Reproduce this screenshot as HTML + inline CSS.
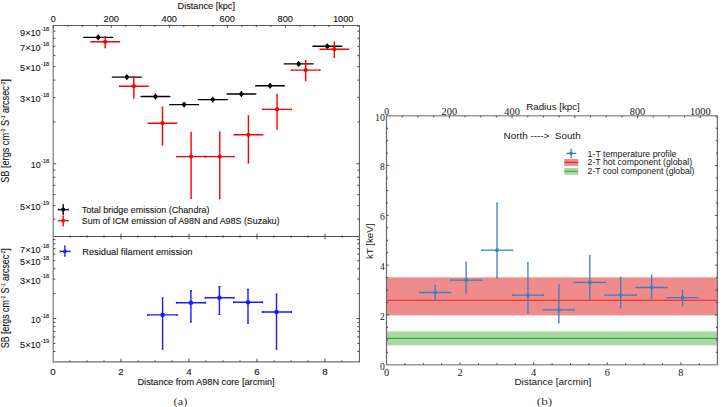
<!DOCTYPE html>
<html><head><meta charset="utf-8"><style>
html,body{margin:0;padding:0;background:#fff;}
body{width:725px;height:407px;overflow:hidden;}
svg{display:block;}
</style></head><body>
<svg width="725" height="407" viewBox="0 0 725 407" font-family='"Liberation Sans", sans-serif'>
<rect width="725" height="407" fill="#fff"/>
<path d="M53.2 25.5H359.4" stroke="#4a4a4a" stroke-width="0.9"/>
<path d="M53.2 236.5H359.4" stroke="#4a4a4a" stroke-width="1"/>
<path d="M53.2 361.9H359.4" stroke="#6e6e6e" stroke-width="1.25"/>
<path d="M53.2 25.05V362.5" stroke="#858585" stroke-width="1.3"/>
<path d="M359.4 25.05V362.5" stroke="#5a5a5a" stroke-width="1.05"/>
<path d="M53.3 25.5v2.2 M67.8 25.5v1.5 M82.3 25.5v1.5 M96.8 25.5v1.5 M111.3 25.5v2.2 M125.8 25.5v1.5 M140.3 25.5v1.5 M154.8 25.5v1.5 M169.3 25.5v2.2 M183.8 25.5v1.5 M198.3 25.5v1.5 M212.8 25.5v1.5 M227.3 25.5v2.2 M241.8 25.5v1.5 M256.3 25.5v1.5 M270.8 25.5v1.5 M285.3 25.5v2.2 M299.8 25.5v1.5 M314.3 25.5v1.5 M328.8 25.5v1.5 M343.3 25.5v2.2 M357.8 25.5v1.5 M70 235.3v2.4 M70 361.9v-1.6 M87 235.3v2.4 M87 361.9v-1.6 M104 235.3v2.4 M104 361.9v-1.6 M121 233.7v5.6 M121 361.9v-3.2 M138 235.3v2.4 M138 361.9v-1.6 M155 235.3v2.4 M155 361.9v-1.6 M172 235.3v2.4 M172 361.9v-1.6 M189 233.7v5.6 M189 361.9v-3.2 M206 235.3v2.4 M206 361.9v-1.6 M223 235.3v2.4 M223 361.9v-1.6 M240 235.3v2.4 M240 361.9v-1.6 M257 233.7v5.6 M257 361.9v-3.2 M274 235.3v2.4 M274 361.9v-1.6 M291 235.3v2.4 M291 361.9v-1.6 M308 235.3v2.4 M308 361.9v-1.6 M325 233.7v5.6 M325 361.9v-3.2 M342 235.3v2.4 M342 361.9v-1.6 M53.2 121.96h2.2 M359.4 121.96h-2 M53.2 97.48h2.2 M359.4 97.48h-2 M53.2 80.11h2.2 M359.4 80.11h-2 M53.2 66.64h2.2 M359.4 66.64h-2 M53.2 55.64h2.2 M359.4 55.64h-2 M53.2 46.33h2.2 M359.4 46.33h-2 M53.2 38.27h2.2 M359.4 38.27h-2 M53.2 31.16h2.2 M359.4 31.16h-2 M53.2 219.11h2.2 M359.4 219.11h-2 M53.2 205.64h2.2 M359.4 205.64h-2 M53.2 194.64h2.2 M359.4 194.64h-2 M53.2 185.33h2.2 M359.4 185.33h-2 M53.2 177.27h2.2 M359.4 177.27h-2 M53.2 170.16h2.2 M359.4 170.16h-2 M53.2 163.8h3 M359.4 163.8h-3 M53.2 293.67h2.2 M359.4 293.67h-2 M53.2 279.09h2.2 M359.4 279.09h-2 M53.2 268.75h2.2 M359.4 268.75h-2 M53.2 260.73h2.2 M359.4 260.73h-2 M53.2 254.17h2.2 M359.4 254.17h-2 M53.2 248.63h2.2 M359.4 248.63h-2 M53.2 243.82h2.2 M359.4 243.82h-2 M53.2 239.59h2.2 M359.4 239.59h-2 M53.2 351.55h2.2 M359.4 351.55h-2 M53.2 343.53h2.2 M359.4 343.53h-2 M53.2 336.97h2.2 M359.4 336.97h-2 M53.2 331.43h2.2 M359.4 331.43h-2 M53.2 326.62h2.2 M359.4 326.62h-2 M53.2 322.39h2.2 M359.4 322.39h-2 M53.2 318.6h3 M359.4 318.6h-3" stroke="#333" stroke-width="0.9" fill="none"/>
<text x="40.7" y="35.76" font-family='"Liberation Sans", sans-serif' font-size="9.9" fill="#151515" stroke="#151515" stroke-width="0.12" text-anchor="end" textLength="20.6" lengthAdjust="spacingAndGlyphs">9×10</text><text x="41" y="30.56" font-family='"Liberation Sans", sans-serif' font-size="5.6" fill="#151515" stroke="#151515" stroke-width="0.12" textLength="8.2" lengthAdjust="spacingAndGlyphs" >-18</text>
<text x="40.7" y="50.93" font-family='"Liberation Sans", sans-serif' font-size="9.9" fill="#151515" stroke="#151515" stroke-width="0.12" text-anchor="end" textLength="20.6" lengthAdjust="spacingAndGlyphs">7×10</text><text x="41" y="45.73" font-family='"Liberation Sans", sans-serif' font-size="5.6" fill="#151515" stroke="#151515" stroke-width="0.12" textLength="8.2" lengthAdjust="spacingAndGlyphs" >-18</text>
<text x="40.7" y="71.24" font-family='"Liberation Sans", sans-serif' font-size="9.9" fill="#151515" stroke="#151515" stroke-width="0.12" text-anchor="end" textLength="20.6" lengthAdjust="spacingAndGlyphs">5×10</text><text x="41" y="66.04" font-family='"Liberation Sans", sans-serif' font-size="5.6" fill="#151515" stroke="#151515" stroke-width="0.12" textLength="8.2" lengthAdjust="spacingAndGlyphs" >-18</text>
<text x="40.7" y="102.08" font-family='"Liberation Sans", sans-serif' font-size="9.9" fill="#151515" stroke="#151515" stroke-width="0.12" text-anchor="end" textLength="20.6" lengthAdjust="spacingAndGlyphs">3×10</text><text x="41" y="96.88" font-family='"Liberation Sans", sans-serif' font-size="5.6" fill="#151515" stroke="#151515" stroke-width="0.12" textLength="8.2" lengthAdjust="spacingAndGlyphs" >-18</text>
<text x="40.7" y="168.4" font-family='"Liberation Sans", sans-serif' font-size="9.9" fill="#151515" stroke="#151515" stroke-width="0.12" text-anchor="end" textLength="10" lengthAdjust="spacingAndGlyphs">10</text><text x="41" y="163.2" font-family='"Liberation Sans", sans-serif' font-size="5.6" fill="#151515" stroke="#151515" stroke-width="0.12" textLength="8.2" lengthAdjust="spacingAndGlyphs" >-18</text>
<text x="40.7" y="210.24" font-family='"Liberation Sans", sans-serif' font-size="9.9" fill="#151515" stroke="#151515" stroke-width="0.12" text-anchor="end" textLength="20.6" lengthAdjust="spacingAndGlyphs">5×10</text><text x="41" y="205.04" font-family='"Liberation Sans", sans-serif' font-size="5.6" fill="#151515" stroke="#151515" stroke-width="0.12" textLength="8.2" lengthAdjust="spacingAndGlyphs" >-19</text>
<text x="40.7" y="253.23" font-family='"Liberation Sans", sans-serif' font-size="9.9" fill="#151515" stroke="#151515" stroke-width="0.12" text-anchor="end" textLength="20.6" lengthAdjust="spacingAndGlyphs">7×10</text><text x="41" y="248.03" font-family='"Liberation Sans", sans-serif' font-size="5.6" fill="#151515" stroke="#151515" stroke-width="0.12" textLength="8.2" lengthAdjust="spacingAndGlyphs" >-18</text>
<text x="40.7" y="265.33" font-family='"Liberation Sans", sans-serif' font-size="9.9" fill="#151515" stroke="#151515" stroke-width="0.12" text-anchor="end" textLength="20.6" lengthAdjust="spacingAndGlyphs">5×10</text><text x="41" y="260.13" font-family='"Liberation Sans", sans-serif' font-size="5.6" fill="#151515" stroke="#151515" stroke-width="0.12" textLength="8.2" lengthAdjust="spacingAndGlyphs" >-18</text>
<text x="40.7" y="283.69" font-family='"Liberation Sans", sans-serif' font-size="9.9" fill="#151515" stroke="#151515" stroke-width="0.12" text-anchor="end" textLength="20.6" lengthAdjust="spacingAndGlyphs">3×10</text><text x="41" y="278.49" font-family='"Liberation Sans", sans-serif' font-size="5.6" fill="#151515" stroke="#151515" stroke-width="0.12" textLength="8.2" lengthAdjust="spacingAndGlyphs" >-18</text>
<text x="40.7" y="323.2" font-family='"Liberation Sans", sans-serif' font-size="9.9" fill="#151515" stroke="#151515" stroke-width="0.12" text-anchor="end" textLength="10" lengthAdjust="spacingAndGlyphs">10</text><text x="41" y="318" font-family='"Liberation Sans", sans-serif' font-size="5.6" fill="#151515" stroke="#151515" stroke-width="0.12" textLength="8.2" lengthAdjust="spacingAndGlyphs" >-18</text>
<text x="40.7" y="348.13" font-family='"Liberation Sans", sans-serif' font-size="9.9" fill="#151515" stroke="#151515" stroke-width="0.12" text-anchor="end" textLength="20.6" lengthAdjust="spacingAndGlyphs">5×10</text><text x="41" y="342.93" font-family='"Liberation Sans", sans-serif' font-size="5.6" fill="#151515" stroke="#151515" stroke-width="0.12" textLength="8.2" lengthAdjust="spacingAndGlyphs" >-19</text>
<text x="53.2" y="21.6" font-family='"Liberation Sans", sans-serif' font-size="9.7" fill="#151515" stroke="#151515" stroke-width="0.12" text-anchor="middle" textLength="5" lengthAdjust="spacingAndGlyphs">0</text>
<text x="111.2" y="21.6" font-family='"Liberation Sans", sans-serif' font-size="9.7" fill="#151515" stroke="#151515" stroke-width="0.12" text-anchor="middle" textLength="15.4" lengthAdjust="spacingAndGlyphs">200</text>
<text x="169.2" y="21.6" font-family='"Liberation Sans", sans-serif' font-size="9.7" fill="#151515" stroke="#151515" stroke-width="0.12" text-anchor="middle" textLength="15.4" lengthAdjust="spacingAndGlyphs">400</text>
<text x="227.2" y="21.6" font-family='"Liberation Sans", sans-serif' font-size="9.7" fill="#151515" stroke="#151515" stroke-width="0.12" text-anchor="middle" textLength="15.4" lengthAdjust="spacingAndGlyphs">600</text>
<text x="285.2" y="21.6" font-family='"Liberation Sans", sans-serif' font-size="9.7" fill="#151515" stroke="#151515" stroke-width="0.12" text-anchor="middle" textLength="15.4" lengthAdjust="spacingAndGlyphs">800</text>
<text x="343.2" y="21.6" font-family='"Liberation Sans", sans-serif' font-size="9.7" fill="#151515" stroke="#151515" stroke-width="0.12" text-anchor="middle" textLength="20.6" lengthAdjust="spacingAndGlyphs">1000</text>
<text x="177.6" y="8.7" font-family='"Liberation Sans", sans-serif' font-size="9.1" fill="#151515" stroke="#151515" stroke-width="0.12" textLength="57.4" lengthAdjust="spacingAndGlyphs" >Distance [kpc]</text>
<text x="53" y="374.7" font-family='"Liberation Sans", sans-serif' font-size="9.7" fill="#151515" stroke="#151515" stroke-width="0.12" text-anchor="middle" textLength="5.4" lengthAdjust="spacingAndGlyphs">0</text>
<text x="121" y="374.7" font-family='"Liberation Sans", sans-serif' font-size="9.7" fill="#151515" stroke="#151515" stroke-width="0.12" text-anchor="middle" textLength="5.4" lengthAdjust="spacingAndGlyphs">2</text>
<text x="189" y="374.7" font-family='"Liberation Sans", sans-serif' font-size="9.7" fill="#151515" stroke="#151515" stroke-width="0.12" text-anchor="middle" textLength="5.4" lengthAdjust="spacingAndGlyphs">4</text>
<text x="257" y="374.7" font-family='"Liberation Sans", sans-serif' font-size="9.7" fill="#151515" stroke="#151515" stroke-width="0.12" text-anchor="middle" textLength="5.4" lengthAdjust="spacingAndGlyphs">6</text>
<text x="325" y="374.7" font-family='"Liberation Sans", sans-serif' font-size="9.7" fill="#151515" stroke="#151515" stroke-width="0.12" text-anchor="middle" textLength="5.4" lengthAdjust="spacingAndGlyphs">8</text>
<text x="137.5" y="384.6" font-family='"Liberation Sans", sans-serif' font-size="9.3" fill="#151515" stroke="#151515" stroke-width="0.12" textLength="137.1" lengthAdjust="spacingAndGlyphs" >Distance from A98N core [arcmin]</text>
<text transform="translate(9,131) rotate(-90)" font-family='"Liberation Sans", sans-serif' font-size="10.8" fill="#151515" stroke="#151515" stroke-width="0.12" text-anchor="middle" textLength="103.5" lengthAdjust="spacingAndGlyphs">SB [ergs cm<tspan font-size="5.8" dy="-4.3">-2</tspan><tspan dy="4.3"> S</tspan><tspan font-size="5.8" dy="-4.3">-1</tspan><tspan dy="4.3"> arcsec</tspan><tspan font-size="5.8" dy="-4.3">-2</tspan><tspan dy="4.3">]</tspan></text>
<text transform="translate(9,298.2) rotate(-90)" font-family='"Liberation Sans", sans-serif' font-size="10.8" fill="#151515" stroke="#151515" stroke-width="0.12" text-anchor="middle" textLength="100" lengthAdjust="spacingAndGlyphs">SB [ergs cm<tspan font-size="5.8" dy="-4.3">-2</tspan><tspan dy="4.3"> S</tspan><tspan font-size="5.8" dy="-4.3">-1</tspan><tspan dy="4.3"> arcsec</tspan><tspan font-size="5.8" dy="-4.3">-2</tspan><tspan dy="4.3">]</tspan></text>
<path d="M83.9 37.4H112.5M98.2 35.2V39.6M97.6 35.2h1.2M97.6 39.6h1.2M83.9 36.8v1.2M112.5 36.8v1.2" stroke="#000" stroke-width="1.4" fill="none"/><circle cx="98.2" cy="37.4" r="2.1" fill="#000"/>
<path d="M112.54 77.1H141.14M126.84 74.9V79.3M126.24 74.9h1.2M126.24 79.3h1.2M112.54 76.5v1.2M141.14 76.5v1.2" stroke="#000" stroke-width="1.4" fill="none"/><circle cx="126.84" cy="77.1" r="2.1" fill="#000"/>
<path d="M141.18 96.5H169.78M155.48 94.3V98.7M154.88 94.3h1.2M154.88 98.7h1.2M141.18 95.9v1.2M169.78 95.9v1.2" stroke="#000" stroke-width="1.4" fill="none"/><circle cx="155.48" cy="96.5" r="2.1" fill="#000"/>
<path d="M169.82 104.6H198.42M184.12 102.4V106.8M183.52 102.4h1.2M183.52 106.8h1.2M169.82 104v1.2M198.42 104v1.2" stroke="#000" stroke-width="1.4" fill="none"/><circle cx="184.12" cy="104.6" r="2.1" fill="#000"/>
<path d="M198.46 99.6H227.06M212.76 97.4V101.8M212.16 97.4h1.2M212.16 101.8h1.2M198.46 99v1.2M227.06 99v1.2" stroke="#000" stroke-width="1.4" fill="none"/><circle cx="212.76" cy="99.6" r="2.1" fill="#000"/>
<path d="M227.1 94H255.7M241.4 91.8V96.2M240.8 91.8h1.2M240.8 96.2h1.2M227.1 93.4v1.2M255.7 93.4v1.2" stroke="#000" stroke-width="1.4" fill="none"/><circle cx="241.4" cy="94" r="2.1" fill="#000"/>
<path d="M255.74 85.8H284.34M270.04 83.6V88M269.44 83.6h1.2M269.44 88h1.2M255.74 85.2v1.2M284.34 85.2v1.2" stroke="#000" stroke-width="1.4" fill="none"/><circle cx="270.04" cy="85.8" r="2.1" fill="#000"/>
<path d="M284.38 63.9H312.98M298.68 61.7V66.1M298.08 61.7h1.2M298.08 66.1h1.2M284.38 63.3v1.2M312.98 63.3v1.2" stroke="#000" stroke-width="1.4" fill="none"/><circle cx="298.68" cy="63.9" r="2.1" fill="#000"/>
<path d="M313.02 46.3H341.62M327.32 44.1V48.5M326.72 44.1h1.2M326.72 48.5h1.2M313.02 45.7v1.2M341.62 45.7v1.2" stroke="#000" stroke-width="1.4" fill="none"/><circle cx="327.32" cy="46.3" r="2.1" fill="#000"/>
<path d="M91 41.8H119.4M105.2 36.9V47.5M104.4 36.9h1.6M104.4 47.5h1.6M91 41v1.6M119.4 41v1.6" stroke="#ff0000" stroke-width="1.4" fill="none"/><circle cx="105.2" cy="41.8" r="2.1" fill="#ff0000"/>
<path d="M119.64 86.2H148.04M133.84 76.7V97.7M133.04 76.7h1.6M133.04 97.7h1.6M119.64 85.4v1.6M148.04 85.4v1.6" stroke="#ff0000" stroke-width="1.4" fill="none"/><circle cx="133.84" cy="86.2" r="2.1" fill="#ff0000"/>
<path d="M148.28 123.2H176.68M162.48 107.3V144.7M161.68 107.3h1.6M161.68 144.7h1.6M148.28 122.4v1.6M176.68 122.4v1.6" stroke="#ff0000" stroke-width="1.4" fill="none"/><circle cx="162.48" cy="123.2" r="2.1" fill="#ff0000"/>
<path d="M176.92 156.6H205.32M191.12 132.4V198.2M190.32 132.4h1.6M190.32 198.2h1.6M176.92 155.8v1.6M205.32 155.8v1.6" stroke="#ff0000" stroke-width="1.4" fill="none"/><circle cx="191.12" cy="156.6" r="2.1" fill="#ff0000"/>
<path d="M205.56 156.6H233.96M219.76 132.2V198.5M218.96 132.2h1.6M218.96 198.5h1.6M205.56 155.8v1.6M233.96 155.8v1.6" stroke="#ff0000" stroke-width="1.4" fill="none"/><circle cx="219.76" cy="156.6" r="2.1" fill="#ff0000"/>
<path d="M234.2 134.8H262.6M248.4 115.9V162.8M247.6 115.9h1.6M247.6 162.8h1.6M234.2 134v1.6M262.6 134v1.6" stroke="#ff0000" stroke-width="1.4" fill="none"/><circle cx="248.4" cy="134.8" r="2.1" fill="#ff0000"/>
<path d="M262.84 109.4H291.24M277.04 94.5V128.9M276.24 94.5h1.6M276.24 128.9h1.6M262.84 108.6v1.6M291.24 108.6v1.6" stroke="#ff0000" stroke-width="1.4" fill="none"/><circle cx="277.04" cy="109.4" r="2.1" fill="#ff0000"/>
<path d="M291.48 70.1H319.88M305.68 60.8V80.6M304.88 60.8h1.6M304.88 80.6h1.6M291.48 69.3v1.6M319.88 69.3v1.6" stroke="#ff0000" stroke-width="1.4" fill="none"/><circle cx="305.68" cy="70.1" r="2.1" fill="#ff0000"/>
<path d="M320.12 49.2H348.52M334.32 42.3V57.2M333.52 42.3h1.6M333.52 57.2h1.6M320.12 48.4v1.6M348.52 48.4v1.6" stroke="#ff0000" stroke-width="1.4" fill="none"/><circle cx="334.32" cy="49.2" r="2.1" fill="#ff0000"/>
<path d="M147.8 314.9H177.1M162.6 297.9V349.1M161.6 297.9h2M161.6 349.1h2M147.8 313.9v2M177.1 313.9v2" stroke="#1c1cff" stroke-width="1.4" fill="none"/><circle cx="162.6" cy="314.9" r="2.3" fill="#1c1cff"/>
<path d="M176.6 302.8H205.4M190.9 290.7V321.8M189.9 290.7h2M189.9 321.8h2M176.6 301.8v2M205.4 301.8v2" stroke="#1c1cff" stroke-width="1.4" fill="none"/><circle cx="190.9" cy="302.8" r="2.3" fill="#1c1cff"/>
<path d="M205.4 297.8H233.9M219.4 286.7V314.4M218.4 286.7h2M218.4 314.4h2M205.4 296.8v2M233.9 296.8v2" stroke="#1c1cff" stroke-width="1.4" fill="none"/><circle cx="219.4" cy="297.8" r="2.3" fill="#1c1cff"/>
<path d="M233.7 302.3H262.5M248 289.4V323.1M247 289.4h2M247 323.1h2M233.7 301.3v2M262.5 301.3v2" stroke="#1c1cff" stroke-width="1.4" fill="none"/><circle cx="248" cy="302.3" r="2.3" fill="#1c1cff"/>
<path d="M262.5 312H291.3M276.5 294.1V349.1M275.5 294.1h2M275.5 349.1h2M262.5 311v2M291.3 311v2" stroke="#1c1cff" stroke-width="1.4" fill="none"/><circle cx="276.5" cy="312" r="2.3" fill="#1c1cff"/>
<path d="M58.6 209.6H68.2M63.2 204.9V214M62.4 204.9h1.6M62.4 214h1.6M58.6 208.8v1.6M68.2 208.8v1.6" stroke="#000" stroke-width="1.3" fill="none"/><circle cx="63.2" cy="209.6" r="2.1" fill="#000"/>
<path d="M58.6 220.7H68.2M63.2 216.2V225.6M62.4 216.2h1.6M62.4 225.6h1.6M58.6 219.9v1.6M68.2 219.9v1.6" stroke="#ff0000" stroke-width="1.3" fill="none"/><circle cx="63.2" cy="220.7" r="1.9" fill="#ff0000"/>
<path d="M60.2 251.4H69.9M64.9 246.2V256.1M64.1 246.2h1.6M64.1 256.1h1.6M60.2 250.6v1.6M69.9 250.6v1.6" stroke="#1c1cff" stroke-width="1.3" fill="none"/><circle cx="64.9" cy="251.4" r="1.9" fill="#1c1cff"/>
<text x="81.8" y="213.1" font-family='"Liberation Sans", sans-serif' font-size="9.6" fill="#151515" stroke="#151515" stroke-width="0.12" textLength="127.6" lengthAdjust="spacingAndGlyphs" >Total bridge emission (Chandra)</text>
<text x="81.8" y="224.1" font-family='"Liberation Sans", sans-serif' font-size="9.8" fill="#151515" stroke="#151515" stroke-width="0.12" textLength="197.7" lengthAdjust="spacingAndGlyphs" >Sum of ICM emission of A98N and A98S (Suzaku)</text>
<text x="82.2" y="254.5" font-family='"Liberation Sans", sans-serif' font-size="9.9" fill="#151515" stroke="#151515" stroke-width="0.12" textLength="110.3" lengthAdjust="spacingAndGlyphs" >Residual filament emission</text>
<text x="173.6" y="405.2" font-family='"Liberation Serif", serif' font-size="10.6" fill="#383838"  textLength="13.8" lengthAdjust="spacingAndGlyphs" >(a)</text>
<rect x="386.5" y="277.4" width="330.9" height="38" fill="#f08b8b"/>
<line x1="386.5" x2="717.4" y1="300.2" y2="300.2" stroke="#e02424" stroke-width="1.1"/>
<rect x="386.5" y="331.4" width="330.9" height="13.9" fill="#a8d9a2"/>
<line x1="386.5" x2="717.4" y1="338.4" y2="338.4" stroke="#3ea83e" stroke-width="1.1"/>
<path d="M385.9 115.8H718.0M385.9 364.7H718.0" stroke="#9a9a9a" stroke-width="1.6"/>
<path d="M386.5 115.8V364.7M717.4 115.8V364.7" stroke="#6a6a6a" stroke-width="1.2"/>
<path d="M386.5 352.25h1.5 M717.4 352.25h-1.5 M386.5 339.81h1.5 M717.4 339.81h-1.5 M386.5 327.37h1.5 M717.4 327.37h-1.5 M386.5 314.92h2.2 M717.4 314.92h-2.2 M386.5 302.47h1.5 M717.4 302.47h-1.5 M386.5 290.03h1.5 M717.4 290.03h-1.5 M386.5 277.58h1.5 M717.4 277.58h-1.5 M386.5 265.14h2.2 M717.4 265.14h-2.2 M386.5 252.69h1.5 M717.4 252.69h-1.5 M386.5 240.25h1.5 M717.4 240.25h-1.5 M386.5 227.8h1.5 M717.4 227.8h-1.5 M386.5 215.36h2.2 M717.4 215.36h-2.2 M386.5 202.91h1.5 M717.4 202.91h-1.5 M386.5 190.47h1.5 M717.4 190.47h-1.5 M386.5 178.02h1.5 M717.4 178.02h-1.5 M386.5 165.58h2.2 M717.4 165.58h-2.2 M386.5 153.13h1.5 M717.4 153.13h-1.5 M386.5 140.69h1.5 M717.4 140.69h-1.5 M386.5 128.24h1.5 M717.4 128.24h-1.5 M404.9 364.7v-1.6 M423.3 364.7v-1.6 M441.7 364.7v-1.6 M460.1 364.7v-2.4 M478.5 364.7v-1.6 M496.9 364.7v-1.6 M515.3 364.7v-1.6 M533.7 364.7v-2.4 M552.1 364.7v-1.6 M570.5 364.7v-1.6 M588.9 364.7v-1.6 M607.3 364.7v-2.4 M625.7 364.7v-1.6 M644.1 364.7v-1.6 M662.5 364.7v-1.6 M680.9 364.7v-2.4 M699.3 364.7v-1.6 M402.29 115.8v1.6 M417.97 115.8v1.6 M433.66 115.8v1.6 M449.34 115.8v2.4 M465.03 115.8v1.6 M480.71 115.8v1.6 M496.39 115.8v1.6 M512.08 115.8v2.4 M527.76 115.8v1.6 M543.45 115.8v1.6 M559.13 115.8v1.6 M574.82 115.8v2.4 M590.5 115.8v1.6 M606.19 115.8v1.6 M621.88 115.8v1.6 M637.56 115.8v2.4 M653.25 115.8v1.6 M668.93 115.8v1.6 M684.62 115.8v1.6 M700.3 115.8v2.4 M715.99 115.8v1.6" stroke="#333" stroke-width="0.9" fill="none"/>
<text x="384.9" y="369.6" font-family='"Liberation Serif", serif' font-size="9.8" fill="#151515"  text-anchor="end" textLength="4.8" lengthAdjust="spacingAndGlyphs">0</text>
<text x="384.9" y="319.82" font-family='"Liberation Serif", serif' font-size="9.8" fill="#151515"  text-anchor="end" textLength="4.8" lengthAdjust="spacingAndGlyphs">2</text>
<text x="384.9" y="270.04" font-family='"Liberation Serif", serif' font-size="9.8" fill="#151515"  text-anchor="end" textLength="4.8" lengthAdjust="spacingAndGlyphs">4</text>
<text x="384.9" y="220.26" font-family='"Liberation Serif", serif' font-size="9.8" fill="#151515"  text-anchor="end" textLength="4.8" lengthAdjust="spacingAndGlyphs">6</text>
<text x="384.9" y="170.48" font-family='"Liberation Serif", serif' font-size="9.8" fill="#151515"  text-anchor="end" textLength="4.8" lengthAdjust="spacingAndGlyphs">8</text>
<text x="384.9" y="120.7" font-family='"Liberation Serif", serif' font-size="9.8" fill="#151515"  text-anchor="end" textLength="9.9" lengthAdjust="spacingAndGlyphs">10</text>
<text x="386.6" y="114.9" font-family='"Liberation Serif", serif' font-size="9.8" fill="#151515"  text-anchor="middle" textLength="4.9" lengthAdjust="spacingAndGlyphs">0</text>
<text x="449.34" y="114.9" font-family='"Liberation Serif", serif' font-size="9.8" fill="#151515"  text-anchor="middle" textLength="15.5" lengthAdjust="spacingAndGlyphs">200</text>
<text x="512.08" y="114.9" font-family='"Liberation Serif", serif' font-size="9.8" fill="#151515"  text-anchor="middle" textLength="15.5" lengthAdjust="spacingAndGlyphs">400</text>
<text x="637.56" y="114.9" font-family='"Liberation Serif", serif' font-size="9.8" fill="#151515"  text-anchor="middle" textLength="15.5" lengthAdjust="spacingAndGlyphs">800</text>
<text x="700.3" y="114.9" font-family='"Liberation Serif", serif' font-size="9.8" fill="#151515"  text-anchor="middle" textLength="20.8" lengthAdjust="spacingAndGlyphs">1000</text>
<text x="386.5" y="376" font-family='"Liberation Serif", serif' font-size="9.8" fill="#151515"  text-anchor="middle" textLength="5.2" lengthAdjust="spacingAndGlyphs">0</text>
<text x="460.1" y="376" font-family='"Liberation Serif", serif' font-size="9.8" fill="#151515"  text-anchor="middle" textLength="5.2" lengthAdjust="spacingAndGlyphs">2</text>
<text x="533.7" y="376" font-family='"Liberation Serif", serif' font-size="9.8" fill="#151515"  text-anchor="middle" textLength="5.2" lengthAdjust="spacingAndGlyphs">4</text>
<text x="607.3" y="376" font-family='"Liberation Serif", serif' font-size="9.8" fill="#151515"  text-anchor="middle" textLength="5.2" lengthAdjust="spacingAndGlyphs">6</text>
<text x="680.9" y="376" font-family='"Liberation Serif", serif' font-size="9.8" fill="#151515"  text-anchor="middle" textLength="5.2" lengthAdjust="spacingAndGlyphs">8</text>
<text x="526.2" y="110.2" font-family='"Liberation Sans", sans-serif' font-size="9.4" fill="#151515"  textLength="53.6" lengthAdjust="spacingAndGlyphs" >Radius [kpc]</text>
<text x="503.5" y="138.9" font-family='"Liberation Sans", sans-serif' font-size="9.1" fill="#151515"  textLength="77.2" lengthAdjust="spacingAndGlyphs" xml:space="preserve">North ----&gt;  South</text>
<text x="514.4" y="385.2" font-family='"Liberation Sans", sans-serif' font-size="9.0" fill="#151515"  textLength="76.8" lengthAdjust="spacingAndGlyphs" >Distance [arcmin]</text>
<text transform="translate(373.3,241.3) rotate(-90)" font-family='"Liberation Sans", sans-serif' font-size="9.3" fill="#151515" text-anchor="middle" textLength="35.4" lengthAdjust="spacingAndGlyphs">kT [keV]</text>
<text x="536.8" y="404.6" font-family='"Liberation Serif", serif' font-size="10.6" fill="#383838"  textLength="15.4" lengthAdjust="spacingAndGlyphs" >(b)</text>
<path d="M419.7 292.5H450.7M435.2 285.3V299.7M434.4 285.3h1.6M434.4 299.7h1.6M419.7 291.7v1.6M450.7 291.7v1.6" stroke="#3a7fc1" stroke-width="1.3" fill="none"/><circle cx="435.2" cy="292.5" r="1.9" fill="#3a7fc1"/>
<path d="M450.62 280.1H481.62M466.12 262.5V292.8M465.32 262.5h1.6M465.32 292.8h1.6M450.62 279.3v1.6M481.62 279.3v1.6" stroke="#3a7fc1" stroke-width="1.3" fill="none"/><circle cx="466.12" cy="280.1" r="1.9" fill="#3a7fc1"/>
<path d="M481.54 250.2H512.54M497.04 203.2V277.9M496.24 203.2h1.6M496.24 277.9h1.6M481.54 249.4v1.6M512.54 249.4v1.6" stroke="#3a7fc1" stroke-width="1.3" fill="none"/><circle cx="497.04" cy="250.2" r="1.9" fill="#3a7fc1"/>
<path d="M512.46 295.1H543.46M527.96 262.6V312.9M527.16 262.6h1.6M527.16 312.9h1.6M512.46 294.3v1.6M543.46 294.3v1.6" stroke="#3a7fc1" stroke-width="1.3" fill="none"/><circle cx="527.96" cy="295.1" r="1.9" fill="#3a7fc1"/>
<path d="M543.38 309.8H574.38M558.88 285.2V322.6M558.08 285.2h1.6M558.08 322.6h1.6M543.38 309v1.6M574.38 309v1.6" stroke="#3a7fc1" stroke-width="1.3" fill="none"/><circle cx="558.88" cy="309.8" r="1.9" fill="#3a7fc1"/>
<path d="M574.3 282.4H605.3M589.8 255.6V300.2M589 255.6h1.6M589 300.2h1.6M574.3 281.6v1.6M605.3 281.6v1.6" stroke="#3a7fc1" stroke-width="1.3" fill="none"/><circle cx="589.8" cy="282.4" r="1.9" fill="#3a7fc1"/>
<path d="M605.22 295.1H636.22M620.72 277.3V307.9M619.92 277.3h1.6M619.92 307.9h1.6M605.22 294.3v1.6M636.22 294.3v1.6" stroke="#3a7fc1" stroke-width="1.3" fill="none"/><circle cx="620.72" cy="295.1" r="1.9" fill="#3a7fc1"/>
<path d="M636.14 287.5H667.14M651.64 275.3V298M650.84 275.3h1.6M650.84 298h1.6M636.14 286.7v1.6M667.14 286.7v1.6" stroke="#3a7fc1" stroke-width="1.3" fill="none"/><circle cx="651.64" cy="287.5" r="1.9" fill="#3a7fc1"/>
<path d="M667.06 297.7H698.06M682.56 290.3V305.6M681.76 290.3h1.6M681.76 305.6h1.6M667.06 296.9v1.6M698.06 296.9v1.6" stroke="#3a7fc1" stroke-width="1.3" fill="none"/><circle cx="682.56" cy="297.7" r="1.9" fill="#3a7fc1"/>
<path d="M567 153.4H575.6M571.1 149.3V157.6M570.4 149.3h1.4M570.4 157.6h1.4M567 152.7v1.4M575.6 152.7v1.4" stroke="#3a7fc1" stroke-width="1.2" fill="none"/><circle cx="571.1" cy="153.4" r="1.8" fill="#3a7fc1"/>
<rect x="564.3" y="159" width="13.9" height="6.9" fill="#f08b8b"/>
<line x1="564.3" x2="578.2" y1="162.4" y2="162.4" stroke="#e02424" stroke-width="1.1"/>
<rect x="564.3" y="167.9" width="13.9" height="6.9" fill="#a8d9a2"/>
<line x1="564.3" x2="578.2" y1="171.3" y2="171.3" stroke="#3ea83e" stroke-width="1.1"/>
<text x="587.6" y="156.6" font-family='"Liberation Sans", sans-serif' font-size="8.7" fill="#151515"  textLength="88.9" lengthAdjust="spacingAndGlyphs" >1-T temperature profile</text>
<text x="587.6" y="165.2" font-family='"Liberation Sans", sans-serif' font-size="8.7" fill="#151515"  textLength="104.5" lengthAdjust="spacingAndGlyphs" >2-T hot component (global)</text>
<text x="587.6" y="173.8" font-family='"Liberation Sans", sans-serif' font-size="8.7" fill="#151515"  textLength="106.9" lengthAdjust="spacingAndGlyphs" >2-T cool component (global)</text>
</svg>
</body></html>
